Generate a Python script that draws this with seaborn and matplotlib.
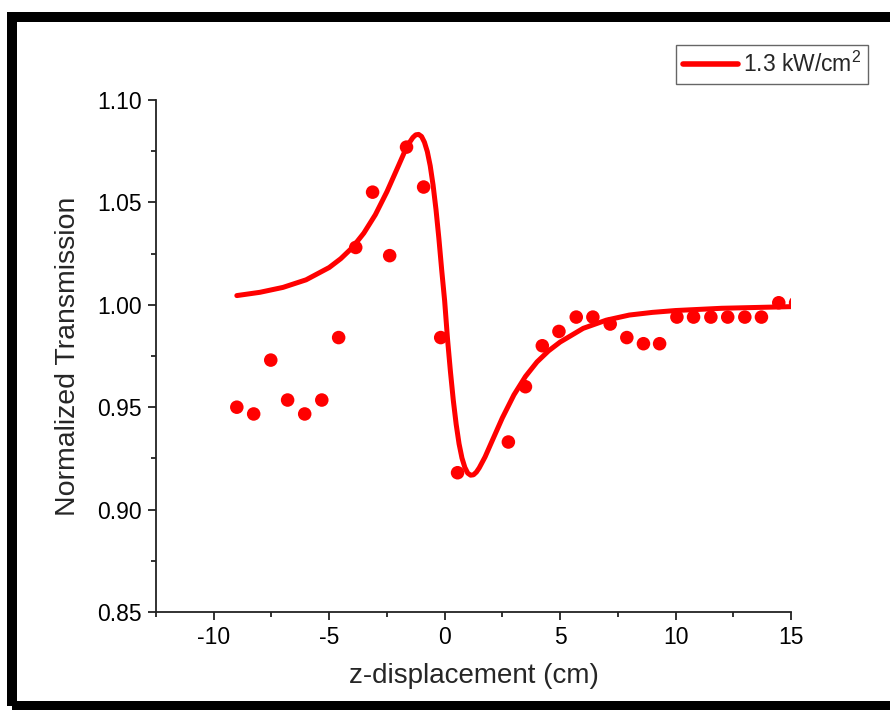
import matplotlib
matplotlib.use("Agg")
import matplotlib.pyplot as plt
import seaborn as sns
import numpy as np
import pandas as pd
from matplotlib.ticker import MultipleLocator, FormatStrFormatter
from matplotlib.patches import Rectangle

# Measured data points (z in cm, normalized transmission)
data_z = [-9.0, -8.27, -7.53, -6.80, -6.06, -5.32, -4.59, -3.85, -3.12, -2.38,
          -1.65, -0.91, -0.17, 0.56, 2.76, 3.50, 4.23, 4.95, 5.70, 6.42,
          7.17, 7.89, 8.61, 9.31, 10.06, 10.78, 11.53, 12.26, 13.00, 13.72,
          14.47, 15.20]
data_t = [0.950, 0.9467, 0.973, 0.9535, 0.9467, 0.9535, 0.984, 1.028, 1.055, 1.024,
          1.077, 1.0575, 0.984, 0.918, 0.933, 0.960, 0.980, 0.987, 0.994, 0.994,
          0.9906, 0.984, 0.981, 0.981, 0.994, 0.994, 0.994, 0.994, 0.994, 0.994,
          1.001, 1.001]

# Fitted curve
fit_z = [-9.0, -8.0, -7.0, -6.0, -5.0, -4.5, -4.0, -3.5, -3.0, -2.5, -2.0, -1.75,
         -1.5, -1.375, -1.25, -1.125, -1.0, -0.875, -0.75, -0.625, -0.5, -0.375,
         -0.25, -0.125, 0.0, 0.125, 0.25, 0.375, 0.5, 0.625, 0.75, 0.875, 1.0,
         1.125, 1.25, 1.375, 1.5, 1.75, 2.0, 2.5, 3.0, 3.5, 4.0, 4.5, 5.0, 6.0,
         7.0, 8.0, 9.0, 10.0, 12.0, 15.0]
fit_t = [1.0045, 1.0061, 1.0085, 1.0122, 1.0182, 1.0225, 1.0279, 1.035, 1.044,
         1.0552, 1.0679, 1.0743, 1.0796, 1.0817, 1.0830, 1.0832, 1.0822, 1.0794,
         1.0748, 1.0679, 1.0584, 1.0466, 1.0325, 1.0167, 1.002, 0.9833, 0.9675,
         0.9534, 0.9416, 0.9321, 0.9252, 0.9206, 0.9178, 0.9168, 0.9170, 0.9183,
         0.9204, 0.9257, 0.9321, 0.9448, 0.956, 0.965, 0.9721, 0.9775, 0.9818,
         0.9885, 0.9925, 0.995, 0.9963, 0.9972, 0.9983, 0.9991]

legend_label = "1.3 kW/cm$^2$"
x_label = "z-displacement (cm)"
y_label = "Normalized Transmission"

sns.set_theme(style="ticks")
plt.rcParams['font.family'] = ['Liberation Sans', 'DejaVu Sans']
plt.rcParams['mathtext.fontset'] = 'custom'
plt.rcParams['mathtext.rm'] = 'Liberation Sans'
plt.rcParams['mathtext.it'] = 'Liberation Sans'
plt.rcParams['axes.unicode_minus'] = False

fig = plt.figure(figsize=(8.9, 7.1), dpi=100)
fig.patch.set_facecolor('white')
ax = fig.add_axes([156/890, 1 - 612/710, (791 - 156)/890, (612 - 100)/710])

red = '#FF0000'
sns.lineplot(x=fit_z, y=fit_t, ax=ax, color=red, linewidth=3.6, sort=False,
             estimator=None, label=legend_label, solid_capstyle='round',
             solid_joinstyle='round')
sns.scatterplot(x=data_z, y=data_t, ax=ax, color=red, s=95, edgecolor='none',
                legend=False, zorder=3)

ax.set_xlim(-12.5, 15)
ax.set_ylim(0.85, 1.10)
ax.xaxis.set_major_locator(MultipleLocator(5))
ax.xaxis.set_minor_locator(MultipleLocator(2.5))
ax.yaxis.set_major_locator(MultipleLocator(0.05))
ax.yaxis.set_minor_locator(MultipleLocator(0.025))
ax.yaxis.set_major_formatter(FormatStrFormatter('%.2f'))

spine_c = '#222222'
for s in ['top', 'right']:
    ax.spines[s].set_visible(False)
for s in ['left', 'bottom']:
    ax.spines[s].set_color(spine_c)
    ax.spines[s].set_linewidth(1.3)
ax.tick_params(axis='both', which='major', direction='out', length=6, width=1.3,
               color=spine_c, labelsize=16.5, labelcolor='black', pad=4)
ax.tick_params(axis='both', which='minor', direction='out', length=3.5, width=1.3,
               color=spine_c)

ax.set_xlabel(x_label, fontsize=20, labelpad=10)
ax.set_ylabel(y_label, fontsize=20.5, labelpad=12)

leg = ax.legend(loc='upper right', bbox_to_anchor=(868/890, 1 - 45/710),
                bbox_transform=fig.transFigure, fontsize=16.5, frameon=True,
                fancybox=False, edgecolor='#666666', framealpha=1,
                handlelength=2.4, handletextpad=0.2, borderpad=0.3,
                borderaxespad=0)
leg.get_frame().set_linewidth(1.0)
for line in leg.get_lines():
    line.set_linewidth(4)

# Thick black frame around the figure (right side runs off the image)
frame = Rectangle((12/890, 1 - 706/710), (905 - 12)/890, (706 - 17)/710,
                  transform=fig.transFigure, fill=False, edgecolor='black',
                  linewidth=7.2, clip_on=False)
fig.patches.append(frame)

fig.savefig('out.png', dpi=100, facecolor='white')
